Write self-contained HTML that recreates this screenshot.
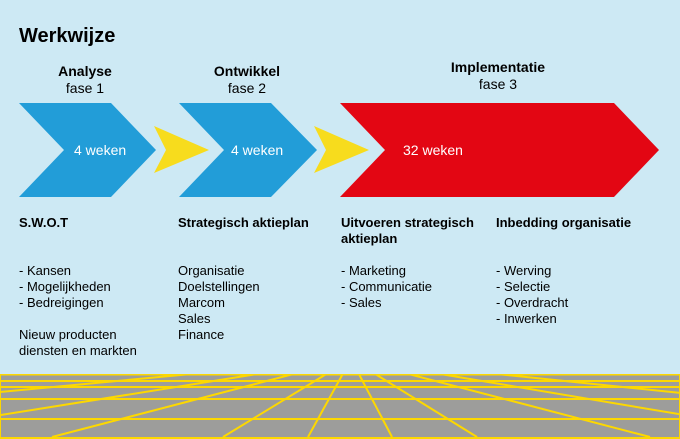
<!DOCTYPE html>
<html><head><meta charset="utf-8"><style>
html,body{margin:0;padding:0;background:#cde9f4;width:680px;height:439px;overflow:hidden;}
svg{display:block;font-family:"Liberation Sans",sans-serif;}
</style></head><body>
<svg width="680" height="439" viewBox="0 0 680 439" xmlns="http://www.w3.org/2000/svg">
<rect width="680" height="439" fill="#cde9f4"/>
<text x="19" y="42" font-size="20" font-weight="bold" fill="#000">Werkwijze</text>
<g font-size="14" text-anchor="middle" fill="#000">
<text x="85" y="76" font-weight="bold">Analyse</text>
<text x="85" y="93">fase 1</text>
<text x="247" y="76" font-weight="bold">Ontwikkel</text>
<text x="247" y="93">fase 2</text>
<text x="498" y="72" font-weight="bold">Implementatie</text>
<text x="498" y="89">fase 3</text>
</g>
<polygon points="19,103 111,103 156,150 111,197 19,197 64,150" fill="#229dd8"/>
<polygon points="154,126 209,150 154,173 166,150" fill="#f7dc1d"/>
<polygon points="179,103 271,103 317,150 271,197 179,197 224,150" fill="#229dd8"/>
<polygon points="314,126 369,150 314,173 326,150" fill="#f7dc1d"/>
<polygon points="340,103 614,103 659,150 614,197 340,197 385,150" fill="#e30613"/>
<g font-size="14" fill="#fff">
<text x="74" y="155">4 weken</text>
<text x="231" y="155">4 weken</text>
<text x="403" y="155">32 weken</text>
</g>
<g font-size="13" fill="#000">
<g font-weight="bold">
<text x="19" y="227">S.W.O.T</text>
<text x="178" y="227">Strategisch aktieplan</text>
<text x="341" y="227">Uitvoeren strategisch</text>
<text x="341" y="243">aktieplan</text>
<text x="496" y="227">Inbedding organisatie</text>
</g>
<text x="19" y="275">- Kansen</text>
<text x="19" y="291">- Mogelijkheden</text>
<text x="19" y="307">- Bedreigingen</text>
<text x="19" y="339">Nieuw producten</text>
<text x="19" y="355">diensten en markten</text>
<text x="178" y="275">Organisatie</text>
<text x="178" y="291">Doelstellingen</text>
<text x="178" y="307">Marcom</text>
<text x="178" y="323">Sales</text>
<text x="178" y="339">Finance</text>
<text x="341" y="275">- Marketing</text>
<text x="341" y="291">- Communicatie</text>
<text x="341" y="307">- Sales</text>
<text x="496" y="275">- Werving</text>
<text x="496" y="291">- Selectie</text>
<text x="496" y="307">- Overdracht</text>
<text x="496" y="323">- Inwerken</text>
</g>
<defs><clipPath id="c"><rect x="0" y="374" width="680" height="65"/></clipPath></defs>
<rect x="0" y="374" width="680" height="65" fill="#9d9d9b"/>
<g clip-path="url(#c)" stroke="#fdd800" stroke-width="2">
<line x1="0" y1="374.5" x2="680" y2="374.5"/>
<line x1="0" y1="381" x2="680" y2="381"/>
<line x1="0" y1="387" x2="680" y2="387"/>
<line x1="0" y1="399" x2="680" y2="399"/>
<line x1="0" y1="419" x2="680" y2="419"/>
<line x1="0" y1="438" x2="680" y2="438"/>
<line x1="0" y1="374" x2="0" y2="439"/>
<line x1="680" y1="374" x2="680" y2="439"/>
<g transform="translate(351,359)">
<line x1="0" y1="0" x2="-299" y2="78"/>
<line x1="0" y1="0" x2="-128" y2="78"/>
<line x1="0" y1="0" x2="-43" y2="78"/>
<line x1="0" y1="0" x2="41" y2="78"/>
<line x1="0" y1="0" x2="126" y2="78"/>
<line x1="0" y1="0" x2="299" y2="78"/>
<line x1="0" y1="0" x2="-1000" y2="94"/>
<line x1="0" y1="0" x2="-1000" y2="160"/>
<line x1="0" y1="0" x2="1000" y2="103"/>
<line x1="0" y1="0" x2="1000" y2="168"/>
</g>
</g>
</svg>
</body></html>
